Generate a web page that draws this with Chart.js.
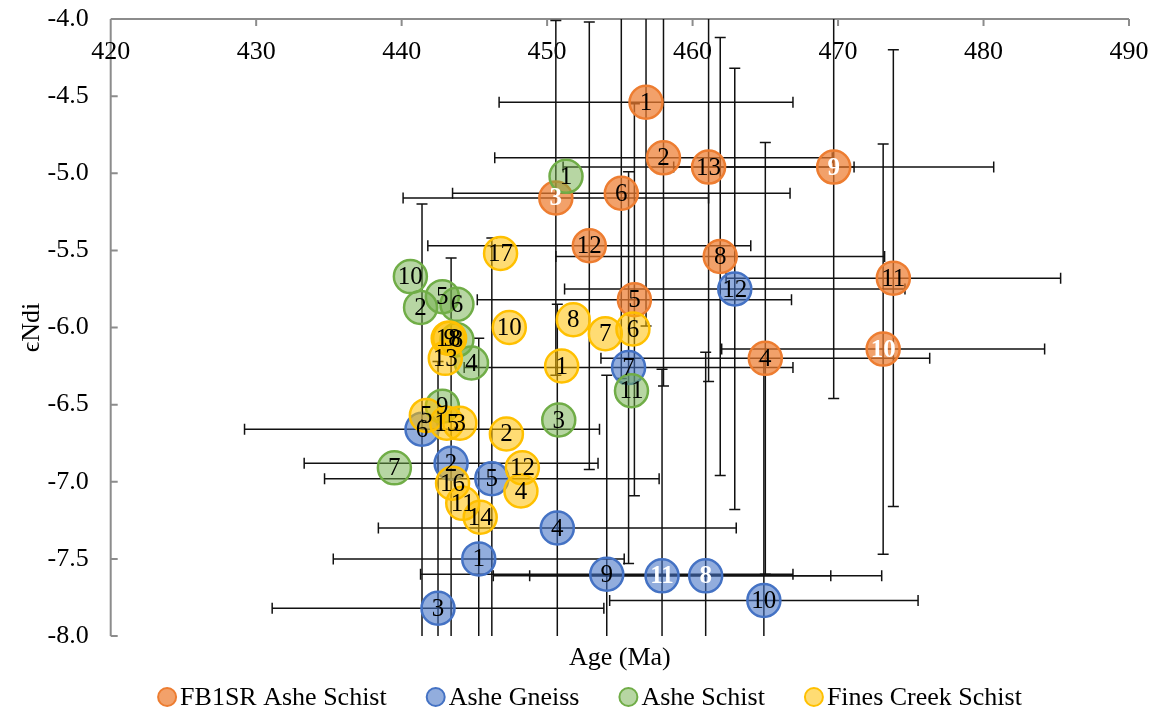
<!DOCTYPE html>
<html>
<head>
<meta charset="utf-8">
<script src="https://cdn.jsdelivr.net/npm/chart.js@4.4.1/dist/chart.umd.min.js"></script>
<style>
  html, body { margin: 0; padding: 0; background: #ffffff; }
  #wrap { width: 1157px; height: 714px; }
</style>
</head>
<body>
<div id="wrap"><canvas id="chart" width="1157" height="714"></canvas></div>
<script>
// Age (Ma) against initial epsilon-Nd, with uncertainties where measured.

// FB1SR Ashe Schist
const orangeLabels = ['1', '2', '3', '4', '5', '6', '8', '9', '10', '11', '12', '13'];
const orangeAge    = [456.8, 458.0, 450.6, 465.0, 456.0, 455.1, 461.9, 469.7, 473.1, 473.8, 452.9, 461.1];
const orangeEnd    = [-4.54, -4.90, -5.16, -6.20, -5.82, -5.13, -5.54, -4.96, -6.14, -5.68, -5.47, -4.96];
const orangeAgeErr = [10.1, 11.6, 10.5, 11.3, 10.8, 11.6, 11.3, 11.0, 11.1, 11.5, 11.1, 10.0];
const orangeEndErr = [1.45, 1.48, 1.15, 1.40, 1.27, 1.20, 1.42, 1.50, 1.33, 1.48, 1.45, 1.39];

// Ashe Gneiss
const blueLabels = ['1', '2', '3', '4', '5', '6', '7', '8', '9', '10', '11', '12'];
const blueAge    = [445.3, 443.4, 442.5, 450.7, 446.2, 441.4, 455.6, 460.9, 454.1, 464.9, 457.9, 462.9];
const blueEnd    = [-7.50, -6.88, -7.82, -7.30, -6.98, -6.66, -6.26, -7.61, -7.60, -7.77, -7.61, -5.75];
const blueAgeErr = [10.0, 10.1, 11.4, 12.3, 11.5, 12.2, 11.3, 12.1, 12.8, 10.6, 11.6, 11.7];
const blueEndErr = [1.43, 1.33, 1.60, 1.45, 1.56, 1.46, 1.27, 1.45, 1.29, 1.55, 1.34, 1.43];

// Ashe Schist
const greenLabels = ['1', '2', '3', '4', '5', '6', '7', '8', '9', '10', '11'];
const greenAge    = [451.3, 441.3, 450.8, 444.8, 442.8, 443.8, 439.5, 443.8, 442.8, 440.6, 455.8];
const greenEnd    = [-5.02, -5.87, -6.60, -6.23, -5.80, -5.85, -6.91, -6.08, -6.51, -5.67, -6.41];

// Fines Creek Schist
const yellowLabels = ['1', '2', '3', '4', '5', '6', '7', '8', '9', '10', '11', '12', '13', '14', '15', '16', '17', '18'];
const yellowAge    = [451.0, 447.2, 444.0, 448.2, 441.7, 455.9, 454.0, 451.8, 443.3, 447.4, 444.2, 448.3, 443.0, 445.4, 443.1, 443.5, 446.8, 443.2];
const yellowEnd    = [-6.25, -6.69, -6.62, -7.06, -6.57, -6.01, -6.04, -5.95, -6.07, -6.00, -7.14, -6.91, -6.20, -7.23, -6.62, -7.01, -5.52, -6.07];

// Axis ranges and tick spacing
const ageRange = [420, 490];
const ageStep = 10;
const endRange = [-8.0, -4.0];
const endStep = 0.5;

const seriesNames = ['FB1SR Ashe Schist', 'Ashe Gneiss', 'Ashe Schist', 'Fines Creek Schist'];

// Sample numbers printed in white
const whiteText = { 0: ['3', '9', '10'], 1: ['8', '11'] };

const SERIF = '"Liberation Serif", "Times New Roman", serif';

function points(ages, ends) {
  return ages.map((a, i) => ({ x: a, y: ends[i] }));
}

function series(name, ages, ends, labels, fill, stroke, order, ageErr, endErr) {
  return {
    label: name,
    data: points(ages, ends),
    sampleLabels: labels,
    ageErr: ageErr || null,
    endErr: endErr || null,
    backgroundColor: fill,
    borderColor: stroke,
    pointRadius: 16.5,
    pointHoverRadius: 16.5,
    pointBorderWidth: 2.5,
    order: order
  };
}

const datasets = [
  series(seriesNames[0], orangeAge, orangeEnd, orangeLabels, 'rgba(237,125,49,0.72)', '#ED7D31', 4, orangeAgeErr, orangeEndErr),
  series(seriesNames[1], blueAge, blueEnd, blueLabels, 'rgba(68,114,196,0.58)', '#4472C4', 3, blueAgeErr, blueEndErr),
  series(seriesNames[2], greenAge, greenEnd, greenLabels, 'rgba(112,173,71,0.5)', '#70AD47', 2),
  series(seriesNames[3], yellowAge, yellowEnd, yellowLabels, 'rgba(255,192,0,0.55)', '#FFC000', 1)
];

// Axis lines on the top and left edges, inward tick marks, and the age labels under the top axis
const plotAxes = {
  id: 'plotAxes',
  beforeDatasetsDraw(chart) {
    const { ctx, chartArea: a, scales: { x, y } } = chart;
    ctx.save();
    ctx.strokeStyle = '#8c8c8c';
    ctx.lineWidth = 2;
    ctx.beginPath();
    ctx.moveTo(a.left, a.top);
    ctx.lineTo(a.right, a.top);
    ctx.moveTo(a.left, a.top);
    ctx.lineTo(a.left, a.bottom);
    x.ticks.forEach(t => {
      const px = x.getPixelForValue(t.value);
      ctx.moveTo(px, a.top);
      ctx.lineTo(px, a.top + 7);
    });
    y.ticks.forEach(t => {
      const py = y.getPixelForValue(t.value);
      ctx.moveTo(a.left, py);
      ctx.lineTo(a.left + 7, py);
    });
    ctx.stroke();
    ctx.fillStyle = '#000';
    ctx.font = '26px ' + SERIF;
    ctx.textAlign = 'center';
    ctx.textBaseline = 'middle';
    x.ticks.forEach(t => {
      ctx.fillText(String(t.value), x.getPixelForValue(t.value), a.top + 33);
    });
    ctx.restore();
  }
};

// Horizontal (age) and vertical (epsilon-Nd) error bars with end caps
const errorBars = {
  id: 'errorBars',
  beforeDatasetsDraw(chart) {
    const { ctx, chartArea: a, scales: { x, y } } = chart;
    const cap = 5.5;
    ctx.save();
    ctx.beginPath();
    ctx.rect(a.left, a.top, a.right - a.left, a.bottom - a.top);
    ctx.clip();
    ctx.strokeStyle = '#111';
    ctx.lineWidth = 1.5;
    chart.data.datasets.forEach(ds => {
      if (!ds.ageErr) return;
      ds.data.forEach((p, i) => {
        const cx = x.getPixelForValue(p.x);
        const cy = y.getPixelForValue(p.y);
        const xl = x.getPixelForValue(p.x - ds.ageErr[i]);
        const xr = x.getPixelForValue(p.x + ds.ageErr[i]);
        const yt = y.getPixelForValue(p.y + ds.endErr[i]);
        const yb = y.getPixelForValue(p.y - ds.endErr[i]);
        ctx.beginPath();
        ctx.moveTo(xl, cy); ctx.lineTo(xr, cy);
        ctx.moveTo(xl, cy - cap); ctx.lineTo(xl, cy + cap);
        ctx.moveTo(xr, cy - cap); ctx.lineTo(xr, cy + cap);
        ctx.moveTo(cx, yt); ctx.lineTo(cx, yb);
        ctx.moveTo(cx - cap, yt); ctx.lineTo(cx + cap, yt);
        ctx.moveTo(cx - cap, yb); ctx.lineTo(cx + cap, yb);
        ctx.stroke();
      });
    });
    ctx.restore();
  }
};

// Sample numbers inside each marker
const sampleNumbers = {
  id: 'sampleNumbers',
  afterDatasetsDraw(chart) {
    const { ctx } = chart;
    ctx.save();
    ctx.textAlign = 'center';
    ctx.textBaseline = 'middle';
    chart.data.datasets.forEach((ds, di) => {
      const meta = chart.getDatasetMeta(di);
      const whites = whiteText[di] || [];
      meta.data.forEach((el, i) => {
        const txt = ds.sampleLabels[i];
        const white = whites.includes(txt);
        ctx.font = (white ? 'bold ' : '') + '25px ' + SERIF;
        ctx.fillStyle = white ? '#ffffff' : '#000000';
        ctx.fillText(txt, el.x, el.y + 1);
      });
    });
    ctx.restore();
  }
};

// Legend row along the bottom edge
const bottomLegend = {
  id: 'bottomLegend',
  afterDraw(chart) {
    const { ctx } = chart;
    const r = 9, gapText = 13, gapItem = 40, yMid = 697;
    ctx.save();
    ctx.font = '26px ' + SERIF;
    ctx.textBaseline = 'middle';
    ctx.textAlign = 'left';
    const items = chart.data.datasets.map(ds => ({ ds, w: ctx.measureText(ds.label).width }));
    const total = items.reduce((s, it) => s + r + gapText + it.w, 0) + gapItem * (items.length - 1);
    let xPos = 590 - total / 2;
    items.forEach(it => {
      const cx = xPos + r;
      ctx.beginPath();
      ctx.arc(cx, yMid, r, 0, Math.PI * 2);
      ctx.fillStyle = it.ds.backgroundColor;
      ctx.fill();
      ctx.lineWidth = 2;
      ctx.strokeStyle = it.ds.borderColor;
      ctx.stroke();
      ctx.fillStyle = '#000';
      ctx.fillText(it.ds.label, cx + gapText, yMid + 1);
      xPos = cx + gapText + it.w + gapItem;
    });
    ctx.restore();
  }
};

new Chart(document.getElementById('chart'), {
  type: 'scatter',
  data: { datasets },
  options: {
    responsive: false,
    animation: false,
    devicePixelRatio: 1,
    events: [],
    layout: { padding: { top: 16, right: 28, left: 0, bottom: 0 } },
    plugins: {
      legend: { display: false },
      tooltip: { enabled: false }
    },
    scales: {
      x: {
        type: 'linear',
        position: 'bottom',
        min: ageRange[0],
        max: ageRange[1],
        ticks: { stepSize: ageStep, display: false },
        grid: { display: false, drawTicks: false },
        border: { display: false },
        title: {
          display: true,
          text: 'Age (Ma)',
          color: '#000',
          font: { family: SERIF, size: 26 },
          padding: { top: 0, bottom: 40 }
        },
        afterFit(scale) { scale.height = 78; scale.paddingLeft = 0; scale.paddingRight = 0; }
      },
      y: {
        type: 'linear',
        min: endRange[0],
        max: endRange[1],
        ticks: {
          stepSize: endStep,
          padding: 22,
          color: '#000',
          font: { family: SERIF, size: 26 },
          callback: v => v.toFixed(1)
        },
        grid: { display: false, drawTicks: false },
        border: { display: false },
        title: {
          display: true,
          text: 'ϵNdi',
          color: '#000',
          font: { family: SERIF, size: 26 },
          padding: { top: 17, bottom: 0 }
        },
        afterFit(scale) { scale.width = 110.7; scale.paddingTop = 0; scale.paddingBottom = 0; }
      }
    }
  },
  plugins: [plotAxes, errorBars, sampleNumbers, bottomLegend]
});
</script>
</body>
</html>
